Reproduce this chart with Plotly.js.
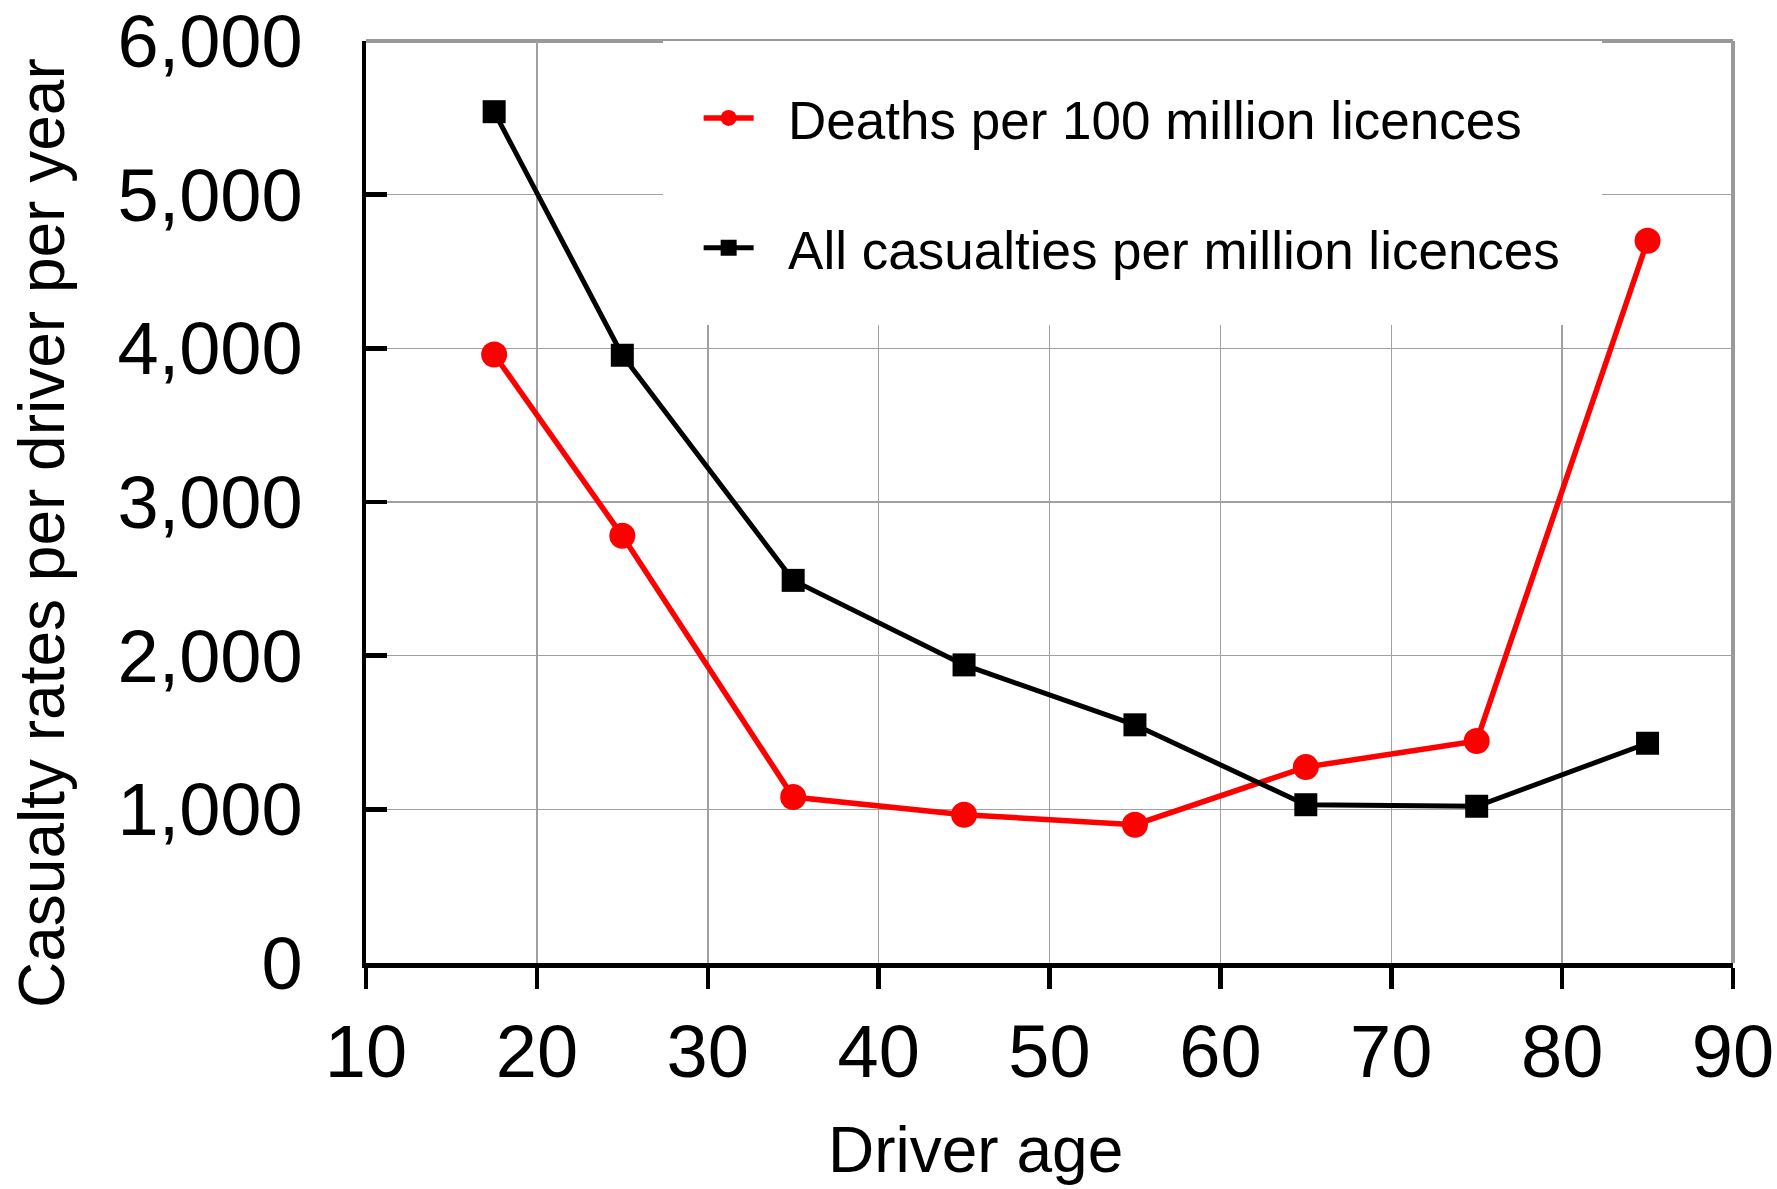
<!DOCTYPE html>
<html>
<head>
<meta charset="utf-8">
<script src="https://cdn.plot.ly/plotly-3.0.1.min.js"></script>
<style>html,body{margin:0;padding:0;background:#fff;}#chart{width:1777px;height:1189px;}</style>
</head>
<body>
<div id="chart"></div>
<script>
const driverAge = [17.5, 25, 35, 45, 55, 65, 75, 85];
const deathsPer100M = [3960, 2780, 1080, 965, 900, 1275, 1445, 4700];
const casualtiesPerM = [5540, 3955, 2490, 1940, 1550, 1030, 1020, 1430];
const seriesNames = ["Deaths per 100 million licences", "All casualties per million licences"];
const xTitle = "Driver age";
const yTitle = "Casualty rates per driver per year";

const FONT = "Liberation Sans, Arial, sans-serif";
const PAD = "\u00a0\u00a0";

const traces = [
  {
    x: driverAge, y: deathsPer100M, name: PAD + seriesNames[0], type: "scatter", mode: "lines+markers",
    line: {color: "#ff0000", width: 5.5}, marker: {symbol: "circle", size: 26, color: "#ff0000"},
    legendgroup: "a"
  },
  {
    x: driverAge, y: casualtiesPerM, name: PAD + seriesNames[1], type: "scatter", mode: "lines+markers",
    line: {color: "#000000", width: 5}, marker: {symbol: "square", size: 23, color: "#000000"},
    legendgroup: "b"
  }
];

const layout = {
  width: 1777, height: 1189,
  margin: {l: 366, r: 44, t: 41, b: 226},
  paper_bgcolor: "#ffffff", plot_bgcolor: "#ffffff",
  font: {family: FONT, color: "#000"},
  showlegend: true,
  legend: {
    x: 0.217, y: 1.0, xanchor: "left", yanchor: "top",
    bgcolor: "#ffffff", bordercolor: "#ffffff", borderwidth: 36,
    font: {size: 53, family: FONT, color: "#000"},
    traceorder: "grouped", tracegroupgap: 58,
    itemwidth: 50
  },
  xaxis: {
    range: [10, 90], dtick: 10, tick0: 10,
    showgrid: true, gridcolor: "#a0a0a0", gridwidth: 1.5,
    showline: true, linecolor: "#000", linewidth: 4.5,
    ticks: "outside", ticklen: 21, tickwidth: 4.5, tickcolor: "#000",
    tickfont: {size: 74, family: FONT, color: "#000"},
    zeroline: false
  },
  yaxis: {
    range: [0, 6000], dtick: 1000, tick0: 0, tickformat: ",",
    showgrid: true, gridcolor: "#a0a0a0", gridwidth: 1.5,
    showline: true, linecolor: "#000", linewidth: 4.5,
    ticks: "inside", ticklen: 21, tickwidth: 4.5, tickcolor: "#000",
    tickfont: {size: 74, family: FONT, color: "#000"},
    ticklabelstandoff: 44, ticklabeloverflow: "allow",
    zeroline: false
  },
  annotations: [
    {text: xTitle, xref: "paper", yref: "paper", x: (975 - 366) / 1367, y: -(1150 - 963) / 922,
     xanchor: "center", yanchor: "middle", showarrow: false, font: {size: 64, family: FONT, color: "#000"}},
    {text: yTitle, xref: "paper", yref: "paper", x: -(366 - 42) / 1367, y: (963 - 533) / 922,
     xanchor: "center", yanchor: "middle", textangle: -90, showarrow: false, font: {size: 64, family: FONT, color: "#000"}}
  ],
  shapes: [
    {type: "line", xref: "paper", yref: "paper", x0: 0, x1: 1, y0: 1, y1: 1, line: {color: "#999999", width: 4}, layer: "below"},
    {type: "line", xref: "paper", yref: "paper", x0: 1, x1: 1, y0: 0, y1: 1, line: {color: "#999999", width: 4}, layer: "below"}
  ]
};

Plotly.newPlot("chart", traces, layout, {displayModeBar: false, staticPlot: true});
</script>
</body>
</html>
